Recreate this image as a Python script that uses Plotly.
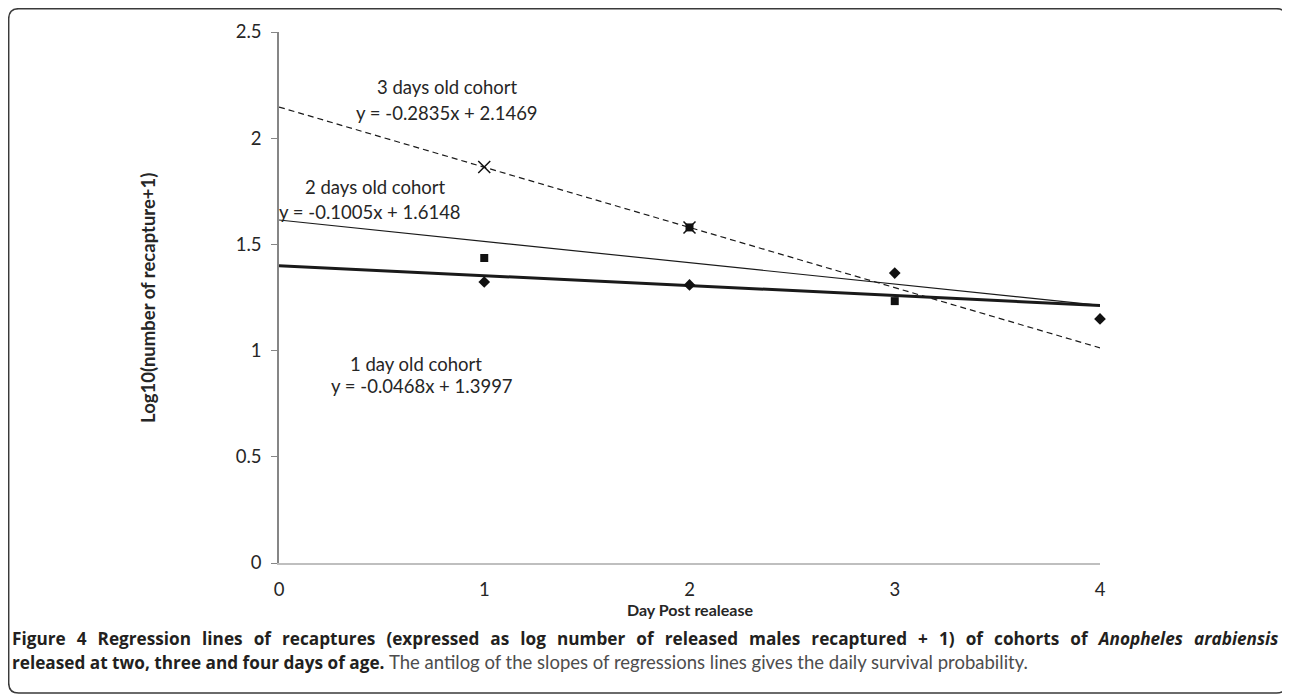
import plotly.graph_objects as go

# ---- data ----
cohort1_days = [1, 2, 3, 4]
cohort1_vals = [1.323, 1.309, 1.365, 1.149]
cohort2_days = [1, 2, 3]
cohort2_vals = [1.436, 1.580, 1.233]
cohort3_days = [1, 2]
cohort3_vals = [1.864, 1.580]

line_names = ["1 day old cohort", "2 days old cohort", "3 days old cohort"]
slopes = [-0.0468, -0.1005, -0.2835]
intercepts = [1.3997, 1.6148, 2.1469]
line_x = [0, 4]

x_ticks = [0, 1, 2, 3, 4]
y_ticks = [0, 0.5, 1, 1.5, 2, 2.5]
y_tick_text = ["0", "0.5", "1", "1.5", "2", "2.5"]

FONT = "Lato"
TXT = "#262626"

fig = go.Figure()

line_styles = [
    dict(color="#1a1a1a", width=3),
    dict(color="#1a1a1a", width=1.2),
    dict(color="#1a1a1a", width=1.2, dash="6px,4px"),
]
for name, m, b, st in zip(line_names, slopes, intercepts, line_styles):
    fig.add_trace(go.Scatter(
        x=line_x, y=[m * xx + b for xx in line_x], mode="lines",
        line=st, name=name, showlegend=False, hoverinfo="skip"))

fig.add_trace(go.Scatter(x=cohort1_days, y=cohort1_vals, mode="markers",
                         marker=dict(symbol="diamond", size=9, color="#111111"),
                         showlegend=False, cliponaxis=False))
fig.add_trace(go.Scatter(x=cohort2_days, y=cohort2_vals, mode="markers",
                         marker=dict(symbol="square", size=8, color="#111111"),
                         showlegend=False, cliponaxis=False))
fig.add_trace(go.Scatter(x=cohort3_days, y=cohort3_vals, mode="markers",
                         marker=dict(symbol="x-thin-open", size=12, color="#111111",
                                     line=dict(color="#111111", width=1.5)),
                         showlegend=False, cliponaxis=False))

# page has an 8px body margin: figure pixel = reference pixel - 8
OFF = 8
W, H = 1290 - OFF, 696 - OFF
L, T = 279 - OFF, 32 - OFF
PW, PH = 821, 531
R, B = W - L - PW, H - T - PH


def px(xp):
    return (xp - 279) / PW


def py(yp):
    return 1 - (yp - 32) / PH


def dx(xp):
    return (xp - 279) / PW * 4


def dy(yp):
    return (563 - yp) / PH * 2.5


anns = []
labels = [
    ("3 days old cohort", 447, 87),
    ("y = -0.2835x + 2.1469", 447, 113),
    ("2 days old cohort", 375, 187),
    ("y = -0.1005x + 1.6148", 370, 212),
    ("1 day old cohort", 416, 364),
    ("y = -0.0468x + 1.3997", 422, 386),
]
for t, xp, yp in labels:
    anns.append(dict(text=t, x=dx(xp), y=dy(yp), xref="x", yref="y",
                     showarrow=False, xanchor="center", yanchor="middle",
                     font=dict(family=FONT, size=18.5, color=TXT)))

anns.append(dict(text="<b>Day Post realease</b>", x=0.5, y=py(609), xref="paper",
                 yref="paper", showarrow=False, xanchor="center", yanchor="middle",
                 font=dict(family=FONT, size=16, color=TXT)))
anns.append(dict(text="<b>Log10(number of recapture+1)</b>", x=px(148), y=py(298),
                 xref="paper", yref="paper", showarrow=False, textangle=-90,
                 xanchor="center", yanchor="middle",
                 font=dict(family=FONT, size=18.5, color=TXT)))

cap1 = ("<span style='word-spacing:6.6px'><b>Figure 4 Regression lines of recaptures "
        "(expressed as log number of released males recaptured + 1) of cohorts of "
        "<i>Anopheles arabiensis</i></b></span>")
cap2 = ("<b>released at two, three and four days of age.</b> "
        "<span style='font-family:Lato;font-size:18.5px;color:#4d4d4d'>The antilog of the "
        "slopes of regressions lines gives the daily survival probability.</span>")
anns.append(dict(text=cap1, x=px(10), y=py(638), xref="paper", yref="paper",
                 showarrow=False, xanchor="left", yanchor="middle",
                 font=dict(family="Open Sans", size=17.2, color="#231f20")))
anns.append(dict(text=cap2, x=px(10), y=py(662), xref="paper", yref="paper",
                 showarrow=False, xanchor="left", yanchor="middle",
                 font=dict(family="Open Sans", size=17.2, color="#231f20")))

# rounded border
x0, x1, y0, y1 = px(8.7), px(1286.5), py(8.7), py(693)
rx, ry = 10 / PW, 10 / PH
path = (f"M {x0+rx},{y0} L {x1-rx},{y0} Q {x1},{y0} {x1},{y0-ry} "
        f"L {x1},{y1+ry} Q {x1},{y1} {x1-rx},{y1} L {x0+rx},{y1} "
        f"Q {x0},{y1} {x0},{y1+ry} L {x0},{y0-ry} Q {x0},{y0} {x0+rx},{y0} Z")
shapes = [dict(type="path", path=path, xref="paper", yref="paper",
               line=dict(color="#3a3a3a", width=1.5), fillcolor="rgba(0,0,0,0)")]

fig.update_layout(
    width=W, height=H, margin=dict(l=L, r=R, t=T, b=B),
    paper_bgcolor="white", plot_bgcolor="white",
    annotations=anns, shapes=shapes,
    font=dict(family=FONT, size=15, color=TXT),
    xaxis=dict(range=[0, 4], tickvals=x_ticks, ticktext=[str(v) for v in x_ticks],
               showgrid=False, zeroline=False, showline=True, linecolor="#bfbfbf",
               linewidth=1.5, ticks="", ticklabelstandoff=9,
               tickfont=dict(family=FONT, size=18.5, color=TXT)),
    yaxis=dict(range=[0, 2.5], tickvals=y_ticks, ticktext=y_tick_text,
               showgrid=False, zeroline=False, showline=True, linecolor="#868686",
               linewidth=1.5, ticks="outside", ticklen=6, tickcolor="#868686",
               tickwidth=1.2, ticklabelstandoff=6,
               tickfont=dict(family=FONT, size=18.5, color=TXT)),
)

fig.write_html("out.html")
